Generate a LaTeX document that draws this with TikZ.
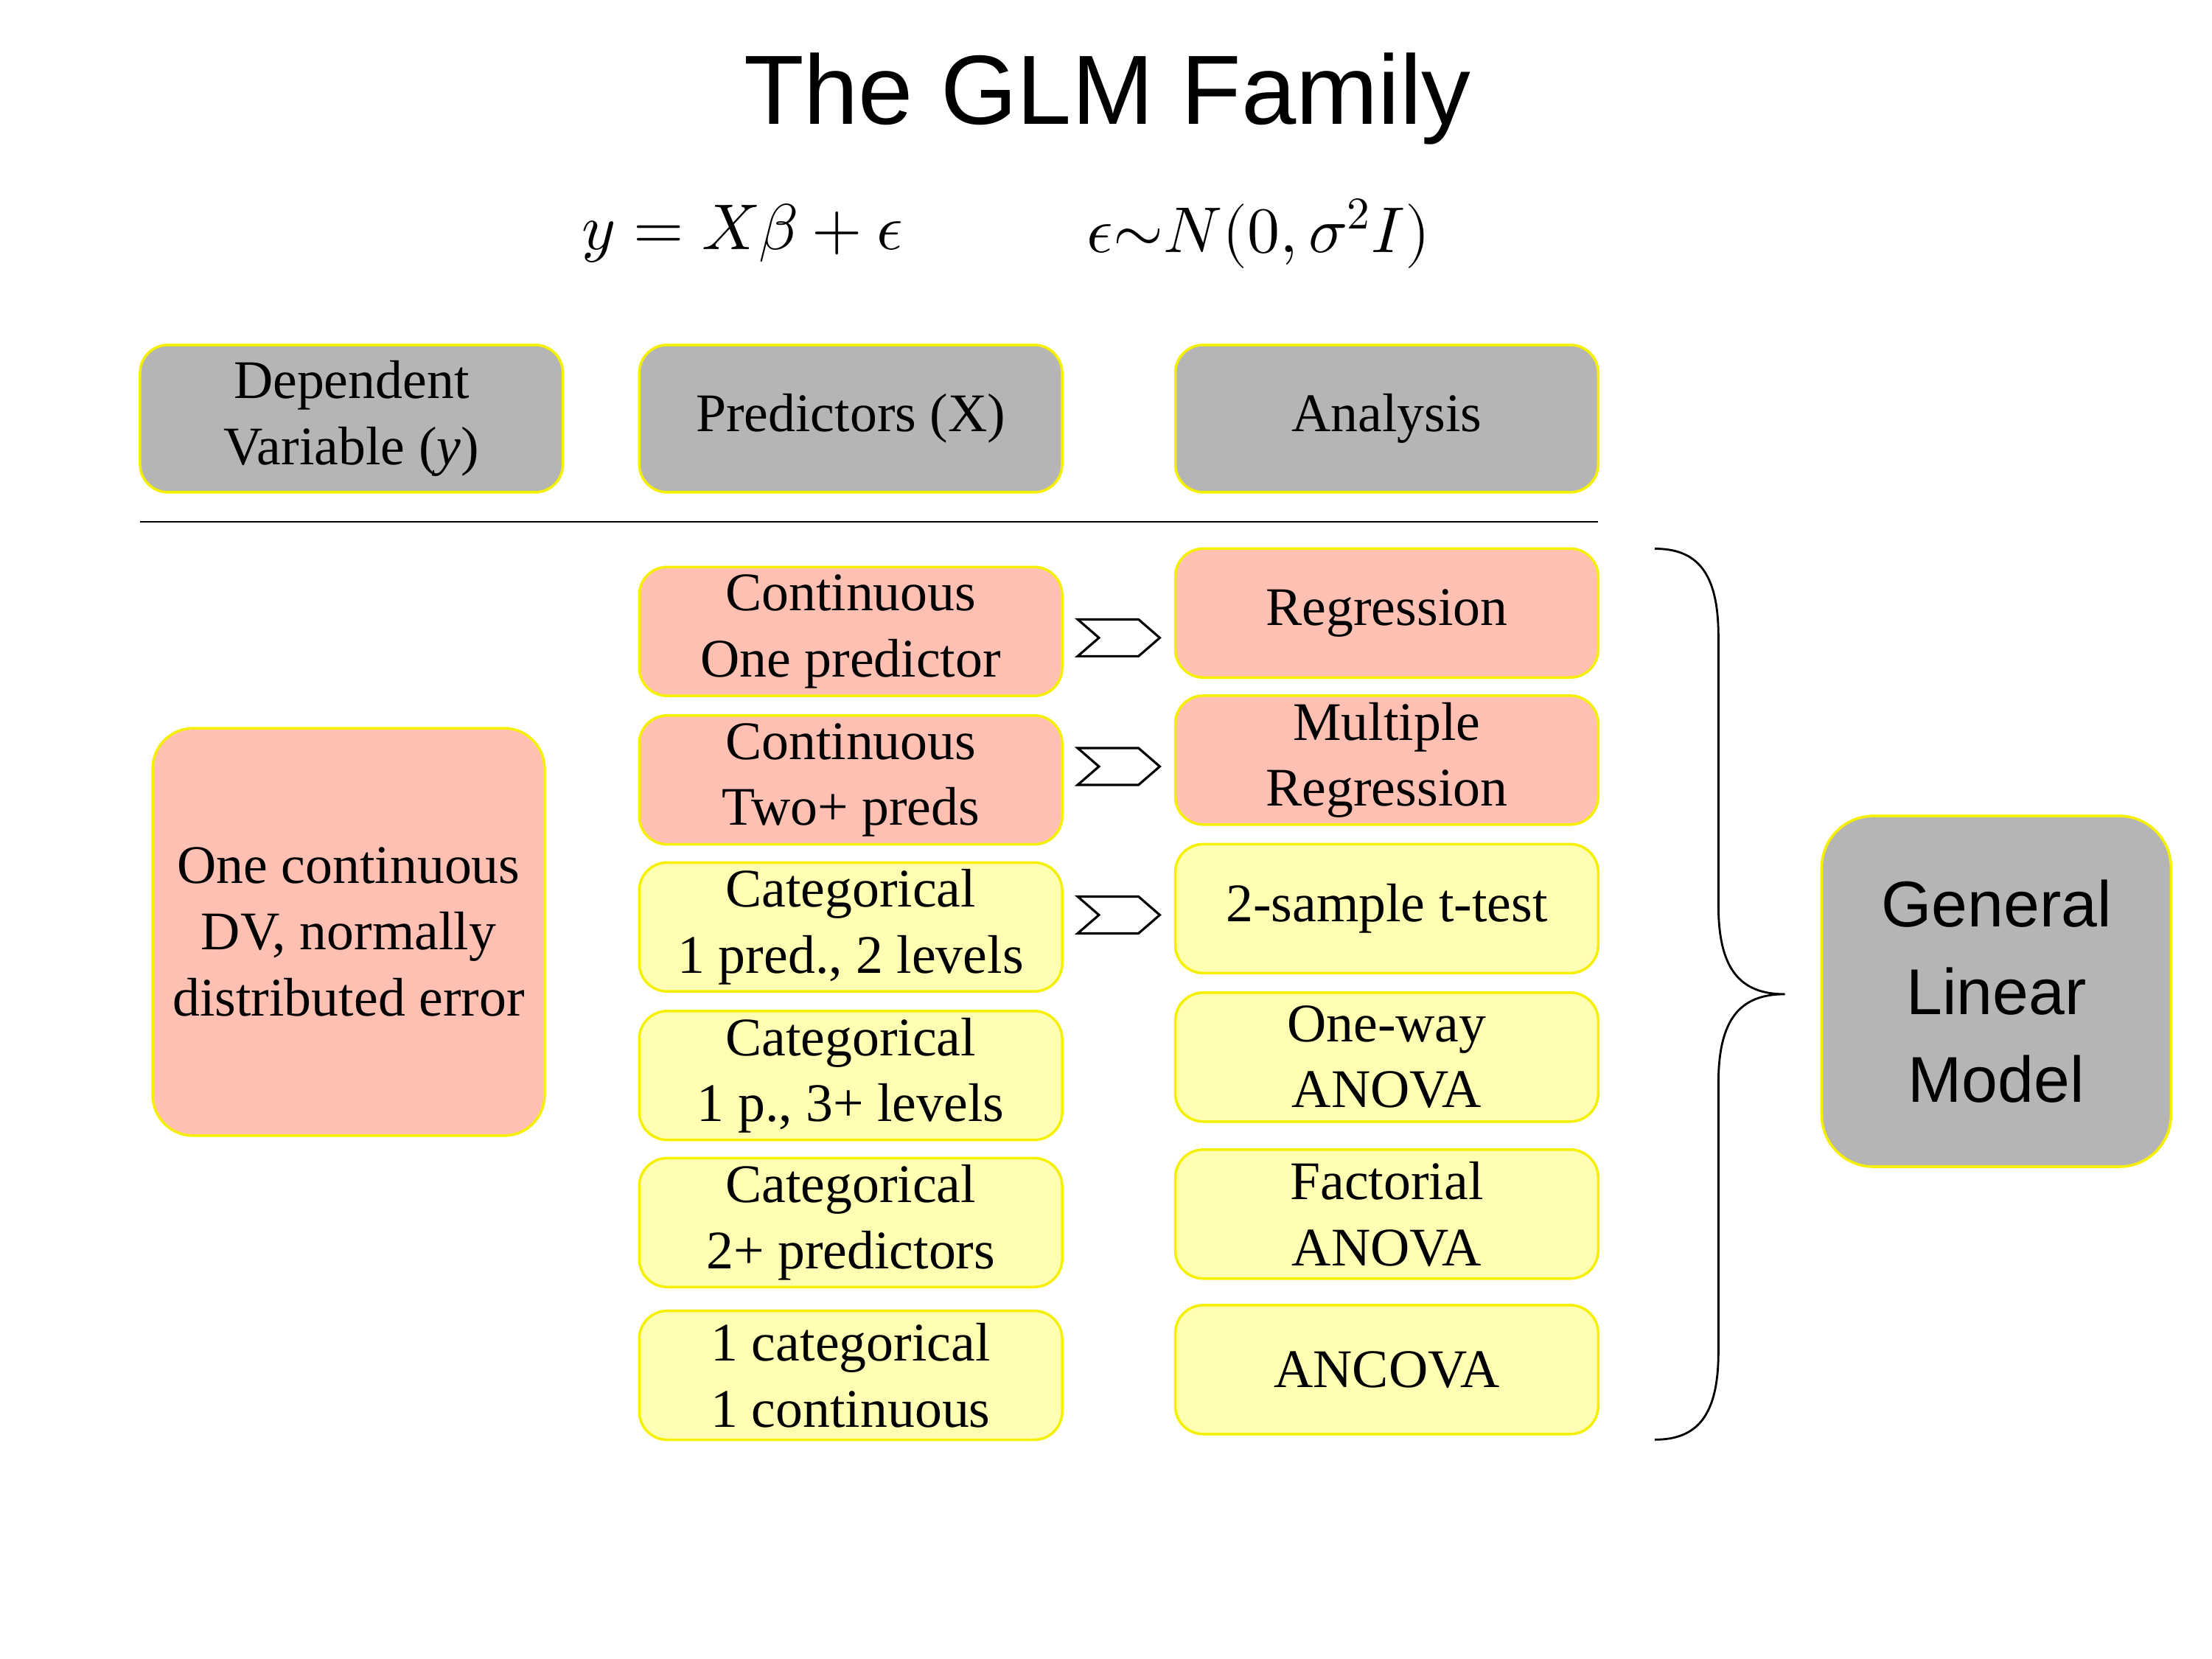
\documentclass[tikz,border=0pt]{standalone}
\usepackage{fontspec}
\setmainfont{Liberation Serif}
\newfontfamily\hv{Liberation Sans}
\usepackage{unicode-math}
\definecolor{pk}{HTML}{FFC0B4}
\definecolor{yl}{HTML}{FFFFB4}
\definecolor{gr}{HTML}{B5B5B5}
\definecolor{bd}{HTML}{F5F000}
\begin{document}
\begin{tikzpicture}[x=0.01919cm,y=-0.01919cm,
  box/.style={draw=bd,line width=1pt,rounded corners=0.38cm,align=center,font=\fontsize{21}{25.5}\selectfont,inner sep=0pt},
  cell/.style={box,minimum width=5.74cm,minimum height=1.75cm},
  head/.style={box,fill=gr,minimum width=5.74cm,minimum height=2.0cm},
  chev/.style={draw=black,line width=0.9pt,fill=white}]
\useasboundingbox (0,0) rectangle (1564,1173);
\node[font=\hv\fontsize{38}{44}\selectfont] (title) at (783,70) {The GLM Family};
\node[font=\fontsize{25}{30}\selectfont] (eq1) at (525,165) {$y = X\beta + \epsilon$};
\node[font=\fontsize{25}{30}\selectfont] (eq2) at (890,165) {$\epsilon{\sim}N(0,\sigma^2 I)$};
\node[head] (hdv) at (248.5,296) {Dependent\\Variable (\textit{y})};
\node[head] (hpr) at (601.5,296) {Predictors (X)};
\node[head] (han) at (980.5,296) {Analysis};
\draw[line width=0.8pt] (99,369) coordinate (l1) -- (1130,369) coordinate (l2);
\node[box,fill=pk,minimum width=5.32cm,minimum height=5.53cm,rounded corners=0.55cm] (dv) at (246.5,659) {One continuous\\DV, normally\\distributed error};
\node[cell,fill=pk] (p1) at (601.5,446.5) {Continuous\\One predictor};
\node[cell,fill=pk] (p2) at (601.5,551.5) {Continuous\\Two+ preds};
\node[cell,fill=yl] (p3) at (601.5,655.5) {Categorical\\1 pred., 2 levels};
\node[cell,fill=yl] (p4) at (601.5,760.5) {Categorical\\1 p., 3+ levels};
\node[cell,fill=yl] (p5) at (601.5,864.5) {Categorical\\2+ predictors};
\node[cell,fill=yl] (p6) at (601.5,972.5) {1 categorical\\1 continuous};
\node[cell,fill=pk] (a1) at (980.5,433.5) {Regression};
\node[cell,fill=pk] (a2) at (980.5,537.5) {Multiple\\Regression};
\node[cell,fill=yl] (a3) at (980.5,642.5) {2-sample t-test};
\node[cell,fill=yl] (a4) at (980.5,747.5) {One-way\\ANOVA};
\node[cell,fill=yl] (a5) at (980.5,858.5) {Factorial\\ANOVA};
\node[cell,fill=yl] (a6) at (980.5,968.5) {ANCOVA};
\foreach \yy in {451,542,647}{
  \draw[chev] (791-29,\yy-13) -- (791+14,\yy-13) -- (791+29,\yy) -- (791+14,\yy+13) -- (791-29,\yy+13) -- (791-14,\yy) -- cycle;
}
\draw[line width=0.8pt] (1170,388) .. controls (1200,388) and (1215,405) .. (1215,450) -- (1215,640)
  .. controls (1215,685) and (1230,703) .. (1262,703)
  .. controls (1230,703) and (1215,721) .. (1215,766) -- (1215,956)
  .. controls (1215,1001) and (1200,1018) .. (1170,1018);
\node[box,fill=gr,minimum width=4.74cm,minimum height=4.76cm,rounded corners=0.7cm,font=\hv\fontsize{25}{34}\selectfont] (glm) at (1411.5,701) {General\\Linear\\Model};
\end{tikzpicture}
\end{document}
